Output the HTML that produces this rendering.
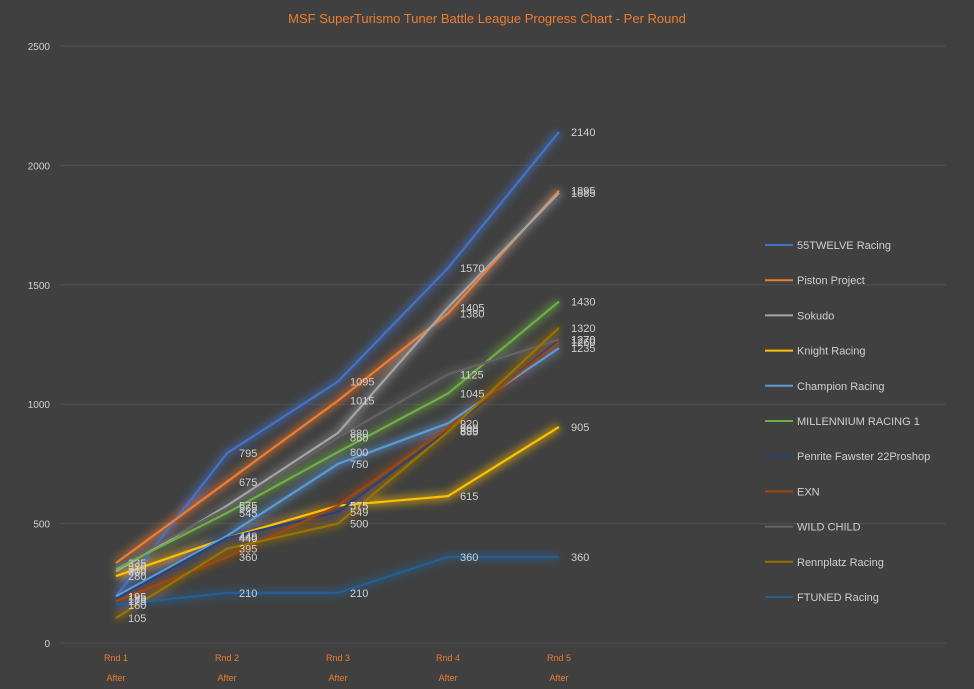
<!DOCTYPE html>
<html><head><meta charset="utf-8"><style>
body{margin:0;background:#404040;}
svg{display:block;font-family:"Liberation Sans",sans-serif;}
</style></head><body>
<svg id="c" width="974" height="689" viewBox="0 0 974 689" xmlns="http://www.w3.org/2000/svg">
<rect width="974" height="689" fill="#404040"/>
<defs><filter id="g" x="-20%" y="-20%" width="140%" height="140%"><feGaussianBlur stdDeviation="4"/></filter></defs>
<text x="487" y="23" fill="#ed7d31" font-size="13" text-anchor="middle">MSF SuperTurismo Tuner Battle League Progress Chart - Per Round</text>
<g id="grid" stroke="#505050" stroke-width="1"></g>
<g id="glow" filter="url(#g)" opacity="0.55"></g>
<g id="lines" fill="none" stroke-width="2.2" stroke-linejoin="round"></g>
<g id="labels" fill="#d0d0d0" font-size="11"></g>
<g id="axis" fill="#d0d0d0" font-size="10"></g>
<g id="legend" font-size="11" fill="#d0d0d0"></g>
</svg>
<script>
var ns="http://www.w3.org/2000/svg";
function el(p,t,a,txt){var e=document.createElementNS(ns,t);for(var k in a)e.setAttribute(k,a[k]);if(txt!=null)e.textContent=txt;document.getElementById(p).appendChild(e);return e;}
function Y(v){return 643-v*0.2388;}
var X=[116,227,338,448,559];
for(var i=0;i<=5;i++){var y=Y(i*500);el("grid","line",{x1:60,x2:946,y1:y,y2:y});el("axis","text",{x:50,y:y+4,"text-anchor":"end"},i*500);}
for(var i=0;i<5;i++){el("axis","text",{x:X[i],y:661,"text-anchor":"middle",fill:"#ed7d31","font-size":"9"},"Rnd "+(i+1));el("axis","text",{x:X[i],y:681,"text-anchor":"middle",fill:"#ed7d31","font-size":"9"},"After");}
var S=[
["55TWELVE Racing","#4472c4",[195,795,1095,1570,2140]],
["Piston Project","#ed7d31",[335,675,1015,1380,1895]],
["Sokudo","#a5a5a5",[300,575,880,1405,1885]],
["Knight Racing","#ffc000",[280,440,575,615,905]],
["Champion Racing","#5b9bd5",[195,449,750,920,1235]],
["MILLENNIUM RACING 1","#70ad47",[310,545,800,1045,1430]],
["Penrite Fawster 22Proshop","#264478",[185,440,549,890,1270]],
["EXN","#9e480e",[175,360,575,900,1260]],
["WILD CHILD","#636363",[320,565,860,1125,1270]],
["Rennplatz Racing","#997300",[105,395,500,885,1320]],
["FTUNED Racing","#255e91",[160,210,210,360,360]]];
S.forEach(function(s,k){
 var pts=s[2].map(function(v,i){return X[i]+","+Y(v).toFixed(1)}).join(" ");
 el("glow","polyline",{points:pts,fill:"none",stroke:s[1],"stroke-width":8});
 el("lines","polyline",{points:pts,stroke:s[1]});
 s[2].forEach(function(v,i){el("labels","text",{x:X[i]+12,y:Y(v)+4},v);});
 var ly=245+k*35.2;
 el("legend","line",{x1:765,x2:793,y1:ly,y2:ly,stroke:s[1],"stroke-width":2});
 el("legend","text",{x:797,y:ly+4},s[0]);
});
</script>
</body></html>
